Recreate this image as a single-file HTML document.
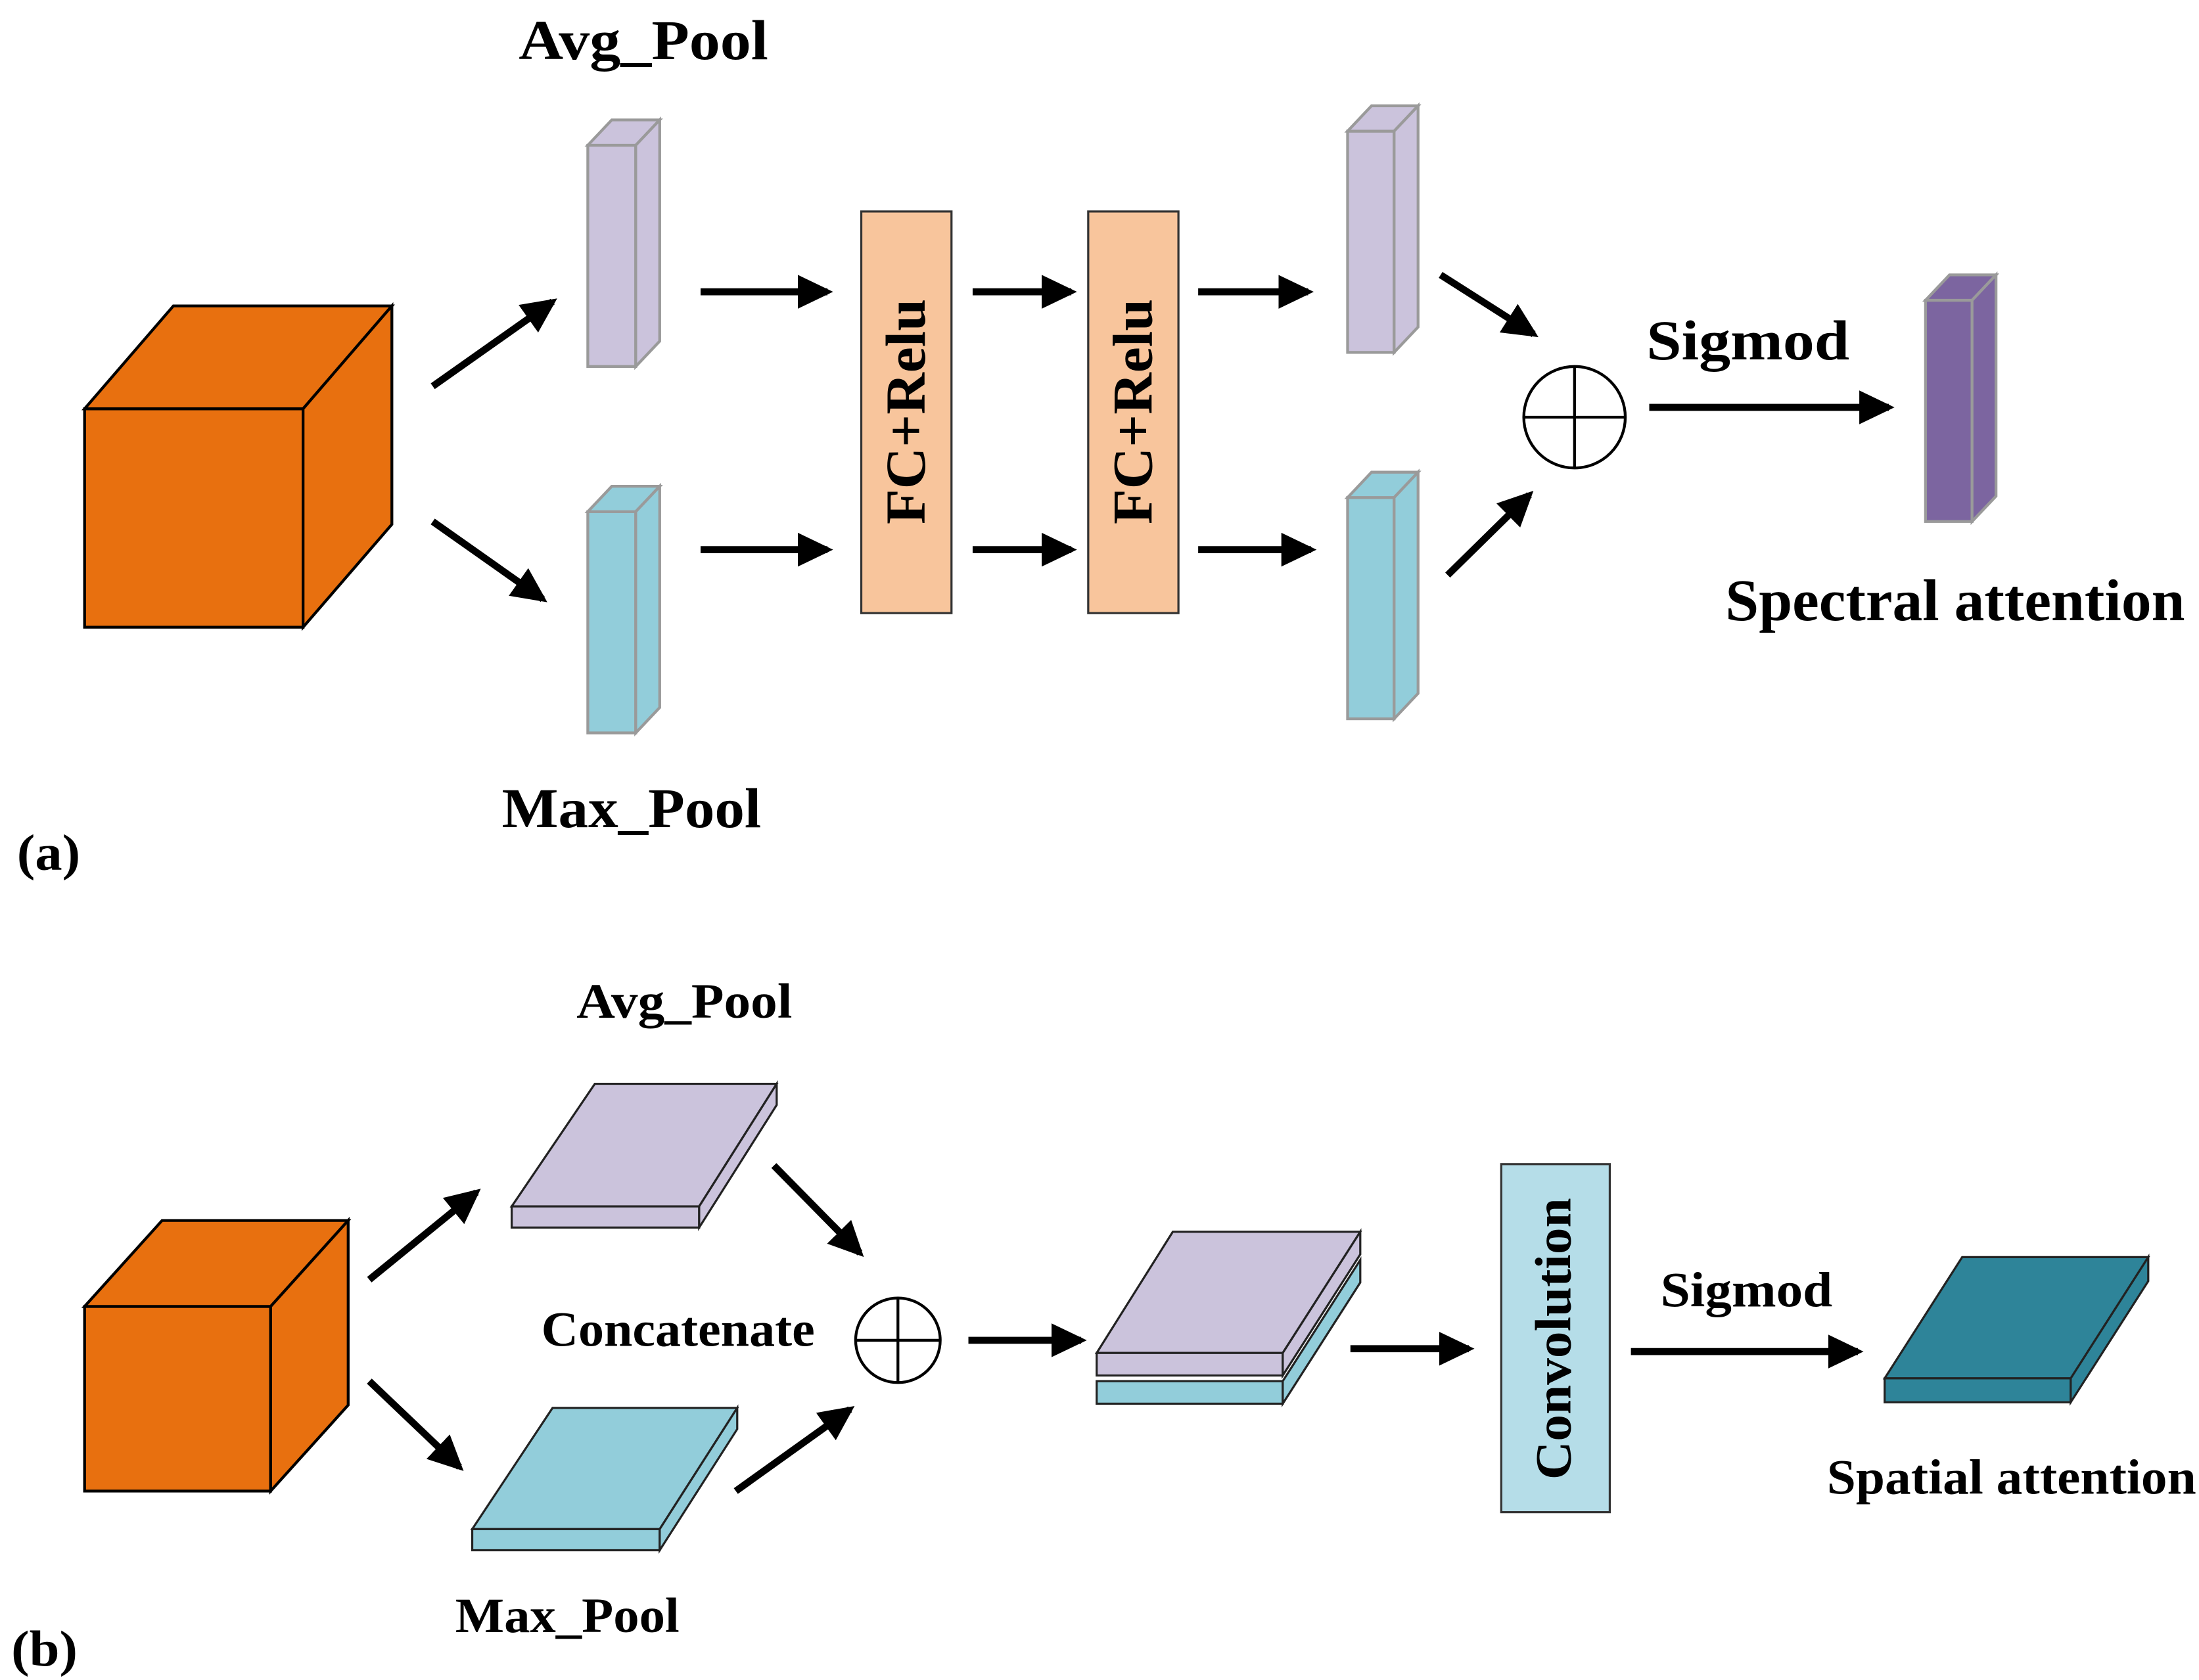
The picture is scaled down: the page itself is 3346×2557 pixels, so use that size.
<!DOCTYPE html>
<html><head><meta charset="utf-8"><style>
html,body{margin:0;padding:0;background:#fff;}
svg{display:block;}
text{font-family:"Liberation Serif",serif;font-weight:bold;fill:#000;}
</style></head><body>
<svg width="3346" height="2557" viewBox="0 0 1560 1192" xmlns="http://www.w3.org/2000/svg">
<defs>
<marker id="ah" markerWidth="6" markerHeight="6" refX="4.2" refY="3" orient="auto" markerUnits="strokeWidth">
<path d="M0,0.6 L5,3 L0,5.4 z" fill="#000"/>
</marker>
</defs>
<g stroke="#000" stroke-width="5" marker-end="url(#ah)">
<line x1="307" y1="274" x2="392" y2="214"/>
<line x1="307" y1="370" x2="385" y2="425"/>
<line x1="497" y1="207" x2="587" y2="207"/>
<line x1="497" y1="390" x2="587" y2="390"/>
<line x1="690" y1="207" x2="760" y2="207"/>
<line x1="690" y1="390" x2="760" y2="390"/>
<line x1="850" y1="207" x2="928" y2="207"/>
<line x1="850" y1="390" x2="930" y2="390"/>
<line x1="1022" y1="195" x2="1088" y2="237"/>
<line x1="1027" y1="408" x2="1085" y2="351"/>
<line x1="1170" y1="289" x2="1340" y2="289"/>
<line x1="262" y1="908" x2="338" y2="846"/>
<line x1="262" y1="980" x2="326" y2="1041"/>
<line x1="549" y1="827" x2="610" y2="889"/>
<line x1="522" y1="1058" x2="603" y2="1000"/>
<line x1="687" y1="951" x2="767" y2="951"/>
<line x1="958" y1="957" x2="1042" y2="957"/>
<line x1="1157" y1="959" x2="1318" y2="959"/>
</g>
<g fill="#E8700F" stroke="#000" stroke-width="2">
<rect x="60" y="290" width="155" height="155"/>
<polygon points="60,290 123,217 278,217 215,290"/>
<polygon points="215,290 278,217 278,372 215,445"/>
</g>
<g stroke="#9a9a9a" stroke-width="2">
<g fill="#CBC3DC">
<rect x="417" y="103" width="34" height="157"/><polygon points="417,103 434,85 468,85 451,103"/><polygon points="451,103 468,85 468,242 451,260"/>
<rect x="956" y="93" width="33" height="157"/><polygon points="956,93 973,75 1006,75 989,93"/><polygon points="989,93 1006,75 1006,232 989,250"/>
</g>
<g fill="#92CDDA">
<rect x="417" y="363" width="34" height="157"/><polygon points="417,363 434,345 468,345 451,363"/><polygon points="451,363 468,345 468,502 451,520"/>
<rect x="956" y="353" width="33" height="157"/><polygon points="956,353 973,335 1006,335 989,353"/><polygon points="989,353 1006,335 1006,492 989,510"/>
</g>
<g fill="#7C65A0">
<rect x="1366" y="213" width="33" height="157"/><polygon points="1366,213 1383,195 1416,195 1399,213"/><polygon points="1399,213 1416,195 1416,352 1399,370"/>
</g>
</g>
<g fill="#F8C59C" stroke="#333" stroke-width="1.5">
<rect x="611" y="150" width="64" height="285"/>
<rect x="772" y="150" width="64" height="285"/>
</g>
<text transform="translate(656,292) rotate(-90)" font-size="40" text-anchor="middle" textLength="160" lengthAdjust="spacingAndGlyphs">FC+Relu</text>
<text transform="translate(817,292) rotate(-90)" font-size="40" text-anchor="middle" textLength="160" lengthAdjust="spacingAndGlyphs">FC+Relu</text>
<g stroke="#000" stroke-width="2" fill="#fff">
<circle cx="1117" cy="296" r="36"/>
<line x1="1081" y1="296" x2="1153" y2="296"/><line x1="1117" y1="260" x2="1117" y2="332"/>
<circle cx="637" cy="951" r="30"/>
<line x1="607" y1="951" x2="667" y2="951"/><line x1="637" y1="921" x2="637" y2="981"/>
</g>
<text x="368" y="42" font-size="40" textLength="177" lengthAdjust="spacingAndGlyphs">Avg_Pool</text>
<text x="356" y="587" font-size="40" textLength="184" lengthAdjust="spacingAndGlyphs">Max_Pool</text>
<text x="12" y="617" font-size="36" textLength="45" lengthAdjust="spacingAndGlyphs">(a)</text>
<text x="1168" y="255" font-size="40" textLength="144" lengthAdjust="spacingAndGlyphs">Sigmod</text>
<text x="1224" y="440" font-size="42" textLength="326" lengthAdjust="spacingAndGlyphs">Spectral attention</text>
<g fill="#E8700F" stroke="#000" stroke-width="2">
<rect x="60" y="927" width="132" height="131"/>
<polygon points="60,927 115,866 247,866 192,927"/>
<polygon points="192,927 247,866 247,997 192,1058"/>
</g>
<g stroke="#222" stroke-width="1.5">
<g fill="#CBC3DC">
<polygon points="363,856 422,769 551,769 496,856"/><rect x="363" y="856" width="133" height="15"/><polygon points="496,856 551,769 551,784 496,871"/>
</g>
<g fill="#92CDDA">
<polygon points="335,1085 392,999 523,999 468,1085"/><rect x="335" y="1085" width="133" height="15"/><polygon points="468,1085 523,999 523,1014 468,1100"/>
</g>
<g fill="#92CDDA">
<rect x="778" y="980" width="132" height="16"/><polygon points="910,980 965,894 965,910 910,996"/>
</g>
<g fill="#CBC3DC">
<polygon points="778,960 832,874 965,874 910,960"/><rect x="778" y="960" width="132" height="16"/><polygon points="910,960 965,874 965,890 910,976"/>
</g>
<g fill="#2E8499">
<polygon points="1337,978 1392,892 1524,892 1469,978"/><rect x="1337" y="978" width="132" height="17"/><polygon points="1469,978 1524,892 1524,909 1469,995"/>
</g>
</g>
<rect x="1065" y="826" width="77" height="247" fill="#B5DDE8" stroke="#333" stroke-width="1.5"/>
<text transform="translate(1114,950) rotate(-90)" font-size="36" text-anchor="middle" textLength="200" lengthAdjust="spacingAndGlyphs">Convolution</text>
<text x="409" y="722" font-size="35" textLength="153" lengthAdjust="spacingAndGlyphs">Avg_Pool</text>
<text x="323" y="1158" font-size="35" textLength="159" lengthAdjust="spacingAndGlyphs">Max_Pool</text>
<text x="384" y="955" font-size="35" textLength="194" lengthAdjust="spacingAndGlyphs">Concatenate</text>
<text x="1178" y="927" font-size="35" textLength="122" lengthAdjust="spacingAndGlyphs">Sigmod</text>
<text x="1296" y="1060" font-size="35" textLength="262" lengthAdjust="spacingAndGlyphs">Spatial attention</text>
<text x="8" y="1182" font-size="36" textLength="47" lengthAdjust="spacingAndGlyphs">(b)</text>
</svg>
</body></html>
